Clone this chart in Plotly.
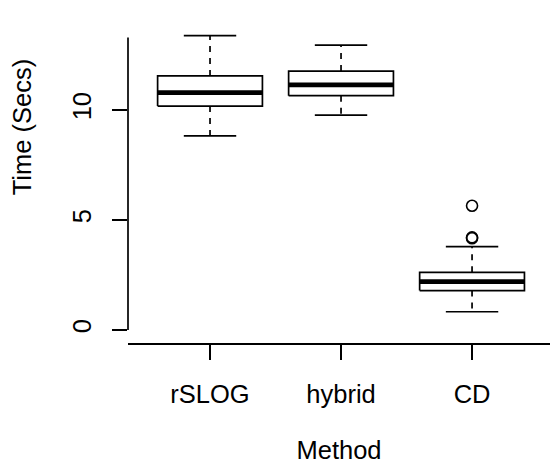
import plotly.graph_objects as go

methods = ["rSLOG", "hybrid", "CD"]
positions = [1, 2, 3]
lower_whisker = [8.82, 9.77, 0.83]
q1 = [10.18, 10.65, 1.79]
median = [10.79, 11.14, 2.20]
q3 = [11.55, 11.77, 2.62]
upper_whisker = [13.38, 12.95, 3.79]
outlier_group = [3, 3, 3]
outlier_values = [5.65, 4.17, 4.21]
y_ticks = [0, 5, 10]

BOX_HW = 0.4
CAP_HW = 0.2
LW = 1.7
FONT = "Liberation Sans, Arial, Helvetica, sans-serif"
FS = 25.5

fig = go.Figure()

for p, lo, a, m, b, hi in zip(positions, lower_whisker, q1, median, q3, upper_whisker):
    fig.add_trace(go.Scatter(x=[p, p, None, p, p], y=[b, hi, None, a, lo], mode="lines",
                             line=dict(color="black", width=LW, dash="6px,6px"),
                             showlegend=False, hoverinfo="skip"))
    fig.add_trace(go.Scatter(x=[p - CAP_HW, p + CAP_HW, None, p - CAP_HW, p + CAP_HW],
                             y=[hi, hi, None, lo, lo], mode="lines",
                             line=dict(color="black", width=LW),
                             showlegend=False, hoverinfo="skip"))
    fig.add_trace(go.Scatter(x=[p - BOX_HW, p + BOX_HW, p + BOX_HW, p - BOX_HW, p - BOX_HW],
                             y=[a, a, b, b, a], mode="lines", fill="toself",
                             fillcolor="white", line=dict(color="black", width=LW),
                             showlegend=False, hoverinfo="skip"))
    fig.add_trace(go.Scatter(x=[p - BOX_HW, p + BOX_HW], y=[m, m], mode="lines",
                             line=dict(color="black", width=4.8),
                             showlegend=False, hoverinfo="skip"))

fig.add_trace(go.Scatter(x=outlier_group, y=outlier_values, mode="markers",
                         marker=dict(symbol="circle-open", size=11, color="black",
                                     line=dict(width=1.6, color="black")),
                         showlegend=False, hoverinfo="skip"))

fig.add_shape(type="line", xref="paper", yref="y", x0=0, x1=0, y0=0, y1=13.3,
              line=dict(color="black", width=LW))

fig.add_annotation(text="Time (Secs)", xref="paper", yref="y", x=-0.252, y=9.2,
                   textangle=-90, showarrow=False, xanchor="center", yanchor="middle",
                   font=dict(family=FONT, size=FS, color="black"))

fig.update_layout(
    width=550, height=464,
    margin=dict(l=128, r=0, t=0, b=121),
    paper_bgcolor="white", plot_bgcolor="white",
    font=dict(family=FONT, size=FS, color="black"),
    xaxis=dict(range=[0.374, 3.595], tickvals=positions, ticktext=methods,
               showgrid=False, zeroline=False, showline=True, linecolor="black",
               linewidth=LW, ticks="outside", ticklen=15, tickwidth=LW, tickcolor="black",
               ticklabelstandoff=13,
               title=dict(text="Method", standoff=35, font=dict(size=FS))),
    yaxis=dict(range=[-0.591, 15.0], tickvals=y_ticks, ticktext=[str(t) for t in y_ticks],
               tickangle=-90, showgrid=False, zeroline=False, showline=False,
               ticks="outside", ticklen=15, tickwidth=LW, tickcolor="black",
               ticklabelstandoff=11),
)

fig.write_html("out.html")
